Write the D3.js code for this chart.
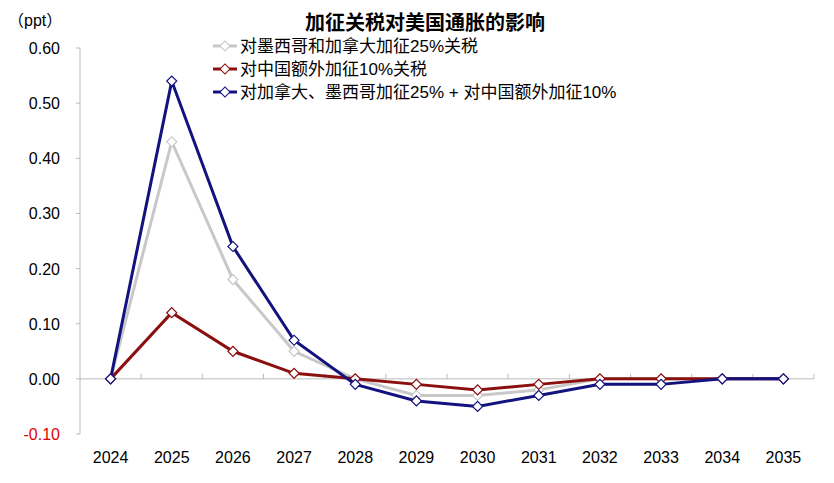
<!DOCTYPE html><html><head><meta charset="utf-8"><script src="https://cdn.jsdelivr.net/npm/d3@7"></script>
<style>body{margin:0;background:#fff}text{font-family:"Liberation Sans","Noto Sans CJK SC",sans-serif}</style></head><body><svg width="834" height="483"></svg><script>
const years=["2024","2025","2026","2027","2028","2029","2030","2031","2032","2033","2034","2035"];
const grayVals=[0,0.43,0.18,0.05,0,-0.03,-0.03,-0.02,0,0,0,0];
const redVals=[0,0.12,0.05,0.01,0,-0.01,-0.02,-0.01,0,0,0,0];
const blueVals=[0,0.54,0.24,0.07,-0.01,-0.04,-0.05,-0.03,-0.01,-0.01,0,0];
const yTicks=[-0.1,0,0.1,0.2,0.3,0.4,0.5,0.6];
const names=["对墨西哥和加拿大加征25%关税","对中国额外加征10%关税","对加拿大、墨西哥加征25% + 对中国额外加征10%"];
const colors=["#c8c8c8","#8b0f0f","#131380"];
const svg=d3.select("svg");
const x=d3.scaleBand().domain(years).range([80,814]);
const y=d3.scaleLinear().domain([-0.1,0.6]).range([434,48]);
const cx=d=>x(d)+x.bandwidth()/2;
svg.append("line").attr("x1",80).attr("x2",80).attr("y1",48).attr("y2",434).attr("stroke","#bbb");
yTicks.forEach(t=>{svg.append("line").attr("x1",76).attr("x2",80).attr("y1",y(t)).attr("y2",y(t)).attr("stroke","#bbb");
svg.append("text").attr("x",60).attr("y",y(t)+6).attr("text-anchor","end").attr("font-size",16).attr("fill",t<0?"#e00000":"#000").text(t.toFixed(2));});
svg.append("line").attr("x1",80).attr("x2",814).attr("y1",y(0)).attr("y2",y(0)).attr("stroke","#bbb");
years.forEach((yr,i)=>{svg.append("line").attr("x1",x(yr)+x.bandwidth()).attr("x2",x(yr)+x.bandwidth()).attr("y1",y(0)).attr("y2",y(0)-5).attr("stroke","#bbb");
svg.append("text").attr("x",cx(yr)).attr("y",463).attr("text-anchor","middle").attr("font-size",16).text(yr);});
svg.append("text").attr("x",8).attr("y",26).attr("font-size",16).text("（ppt）");
svg.append("text").attr("x",425).attr("y",30).attr("text-anchor","middle").attr("font-size",20).attr("font-weight","bold").text("加征关税对美国通胀的影响");
const line=d3.line().x((d,i)=>cx(years[i])).y(d=>y(d));
const sym=d3.symbol().type(d3.symbolSquare).size(50);
[grayVals,redVals,blueVals].forEach((vals,k)=>{
 svg.append("path").attr("d",line(vals)).attr("fill","none").attr("stroke",colors[k]).attr("stroke-width",3);
 svg.selectAll(null).data(vals).enter().append("path").attr("d",sym).attr("transform",(d,i)=>`translate(${cx(years[i])},${y(d)}) rotate(45)`).attr("fill","#fff").attr("stroke",colors[k]).attr("stroke-width",1.2);
 const ly=46+k*23;
 svg.append("line").attr("x1",213).attr("x2",237).attr("y1",ly).attr("y2",ly).attr("stroke",colors[k]).attr("stroke-width",3);
 svg.append("path").attr("d",sym).attr("transform",`translate(225,${ly}) rotate(45)`).attr("fill","#fff").attr("stroke",colors[k]);
 svg.append("text").attr("x",240).attr("y",ly+6).attr("font-size",17).text(names[k]);
});
</script></body></html>
